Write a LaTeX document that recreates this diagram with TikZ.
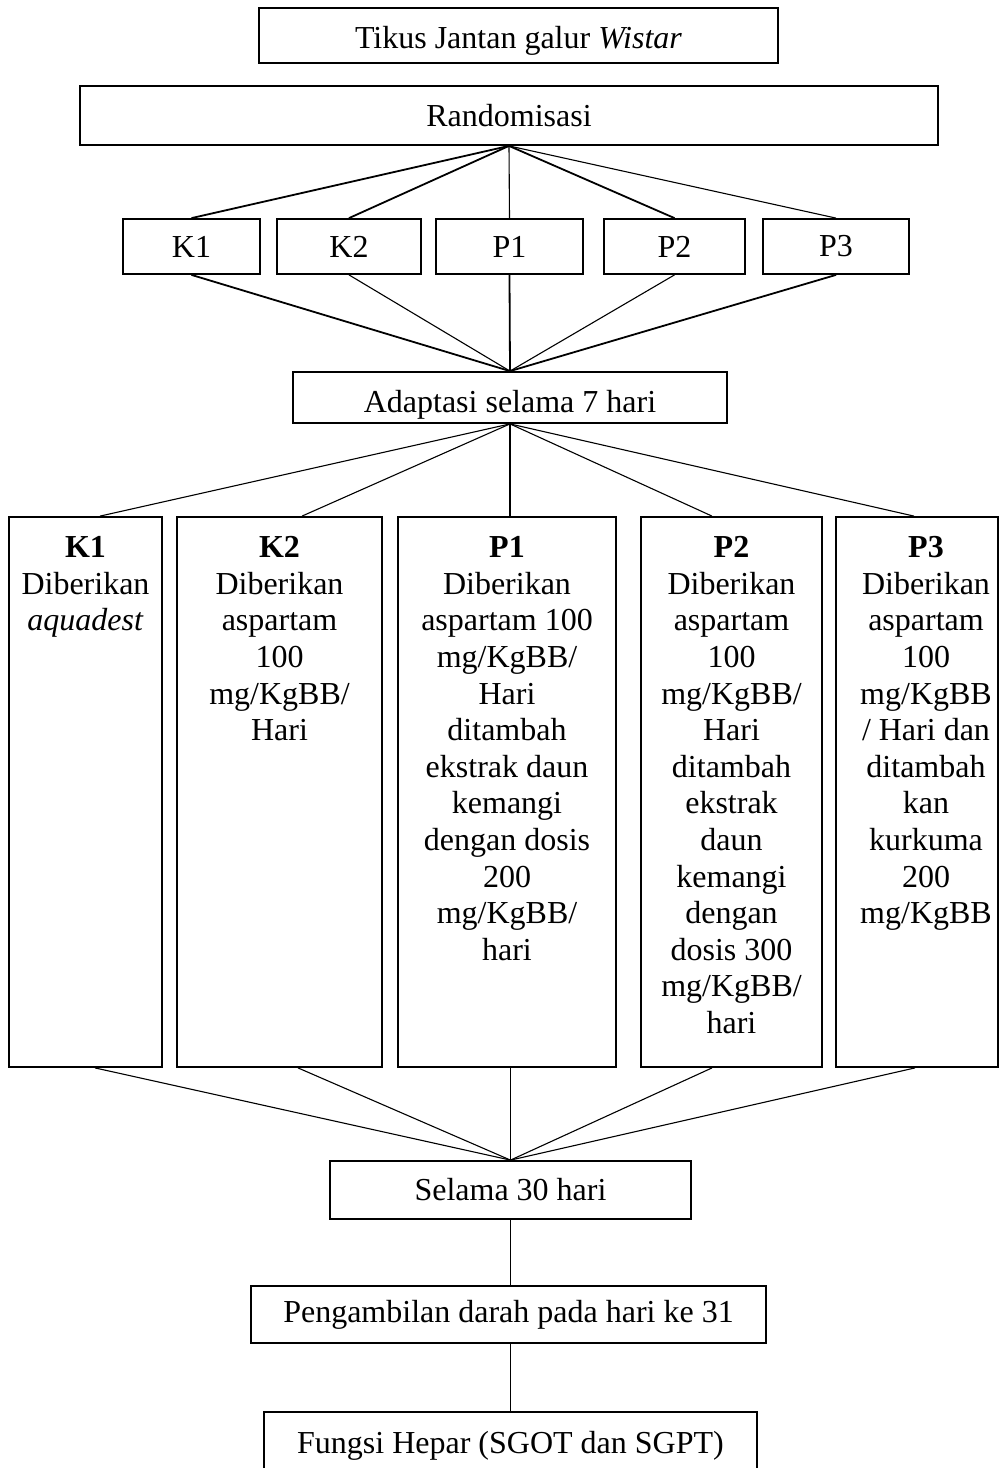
\documentclass[tikz,border=0pt]{standalone}
\usepackage{fontspec}
\setmainfont{Liberation Serif}
\begin{document}
\begin{tikzpicture}[x=0.5pt,y=-0.5pt,
  box/.style={draw, line width=0.9pt, inner sep=0pt, align=center,
              font=\fontsize{16}{18.3}\selectfont},
  coltext/.style={inner sep=0pt, align=center, anchor=north,
              font=\fontsize{16}{18.3}\selectfont},
  thickln/.style={line width=0.9pt},
  thinln/.style={line width=0.55pt}]
\useasboundingbox (0,0) rectangle (1000,1468);
\clip (0,0) rectangle (1000,1468);
\fill[white] (0,0) rectangle (1000,1468);

% top boxes
\node[box, minimum width=259.5pt, minimum height=27.5pt] (tikus) at (518.5,35.5) {\raisebox{-6.6pt}[0pt][0pt]{Tikus Jantan galur \textit{Wistar}}};
\node[box, minimum width=429pt, minimum height=29.5pt] (rand) at (509,115.5) {Randomisasi};

% small group boxes
\node[box, minimum width=68.5pt, minimum height=27.5pt] (k1s) at (191.5,246.5) {K1};
\node[box, minimum width=72pt, minimum height=27.5pt] (k2s) at (349,246.5) {K2};
\node[box, minimum width=73.5pt, minimum height=27.5pt] (p1s) at (509.5,246.5) {P1};
\node[box, minimum width=70.5pt, minimum height=27.5pt] (p2s) at (674.5,246.5) {P2};
\node[box, minimum width=73pt, minimum height=27.5pt] (p3s) at (836,246.5) {P3};

\node[box, minimum width=217pt, minimum height=25.5pt] (adapt) at (510,397.5) {\raisebox{-7.6pt}[0pt][0pt]{Adaptasi selama 7 hari}};

% large boxes
\node[box, minimum width=76.5pt, minimum height=275pt] (bk1) at (85.5,792) {};
\node[box, minimum width=102.5pt, minimum height=275pt] (bk2) at (279.5,792) {};
\node[box, minimum width=109pt, minimum height=275pt] (bp1) at (507,792) {};
\node[box, minimum width=90.5pt, minimum height=275pt] (bp2) at (731.5,792) {};
\node[box, minimum width=81pt, minimum height=275pt] (bp3) at (917,792) {};

\node[coltext] (tk1) at ([yshift=-10pt]bk1.north) {\textbf{K1}\\Diberikan\\\textit{aquadest}};
\node[coltext] (tk2) at ([yshift=-10pt]bk2.north) {\textbf{K2}\\Diberikan\\aspartam\\100\\mg/KgBB/\\Hari};
\node[coltext] (tp1) at ([yshift=-10pt]bp1.north) {\textbf{P1}\\Diberikan\\aspartam 100\\mg/KgBB/\\Hari\\ditambah\\ekstrak daun\\kemangi\\dengan dosis\\200\\mg/KgBB/\\hari};
\node[coltext] (tp2) at ([yshift=-10pt]bp2.north) {\textbf{P2}\\Diberikan\\aspartam\\100\\mg/KgBB/\\Hari\\ditambah\\ekstrak\\daun\\kemangi\\dengan\\dosis 300\\mg/KgBB/\\hari};
\node[coltext] (tp3) at ([xshift=4.5pt,yshift=-10pt]bp3.north) {\textbf{P3}\\Diberikan\\aspartam\\100\\mg/KgBB\\/ Hari dan\\ditambah\\kan\\kurkuma\\200\\mg/KgBB};

% bottom boxes
\node[box, minimum width=180.5pt, minimum height=29pt] (selama) at (510.5,1190) {Selama 30 hari};
\node[box, minimum width=257.5pt, minimum height=28.5pt] (peng) at (508.5,1314.5) {Pengambilan darah pada hari ke 31};
\node[box, minimum width=246.5pt, minimum height=34pt] (fungsi) at (510.5,1446) {Fungsi Hepar (SGOT dan SGPT)};

% fan: randomisasi -> groups
\draw[thickln] (rand.south) -- (k1s.north);
\draw[thickln] (rand.south) -- (k2s.north);
\draw[thinln]  (rand.south) -- (p1s.north);
\draw[thickln] (rand.south) -- (p2s.north);
\draw[thinln]  (rand.south) -- (p3s.north);

% groups -> adaptasi
\draw[thickln] (k1s.south) -- (adapt.north);
\draw[thinln]  (k2s.south) -- (adapt.north);
\draw[thickln] (p1s.south) -- (adapt.north);
\draw[thinln]  (p2s.south) -- (adapt.north);
\draw[thickln] (p3s.south) -- (adapt.north);

% adaptasi -> treatment boxes
\draw[thinln] (adapt.south) -- ([xshift=7.25pt]bk1.north);
\draw[thinln] (adapt.south) -- ([xshift=11.25pt]bk2.north);
\draw[thinln] (adapt.south) -- (adapt.south |- bp1.north);
\draw[thinln] (adapt.south) -- ([xshift=-9.75pt]bp2.north);
\draw[thinln] (adapt.south) -- ([xshift=-1.5pt]bp3.north);

% treatment boxes -> selama
\draw[thinln] ([xshift=4.75pt]bk1.south) -- (selama.north);
\draw[thinln] ([xshift=9.25pt]bk2.south) -- (selama.north);
\draw[thinln] (selama.north |- bp1.south) -- (selama.north);
\draw[thinln] ([xshift=-9.75pt]bp2.south) -- (selama.north);
\draw[thinln] ([xshift=-1pt]bp3.south) -- (selama.north);

\draw[thinln] (selama.south) -- (selama.south |- peng.north);
\draw[thinln] (selama.south |- peng.south) -- (selama.south |- fungsi.north);
\end{tikzpicture}
\end{document}
